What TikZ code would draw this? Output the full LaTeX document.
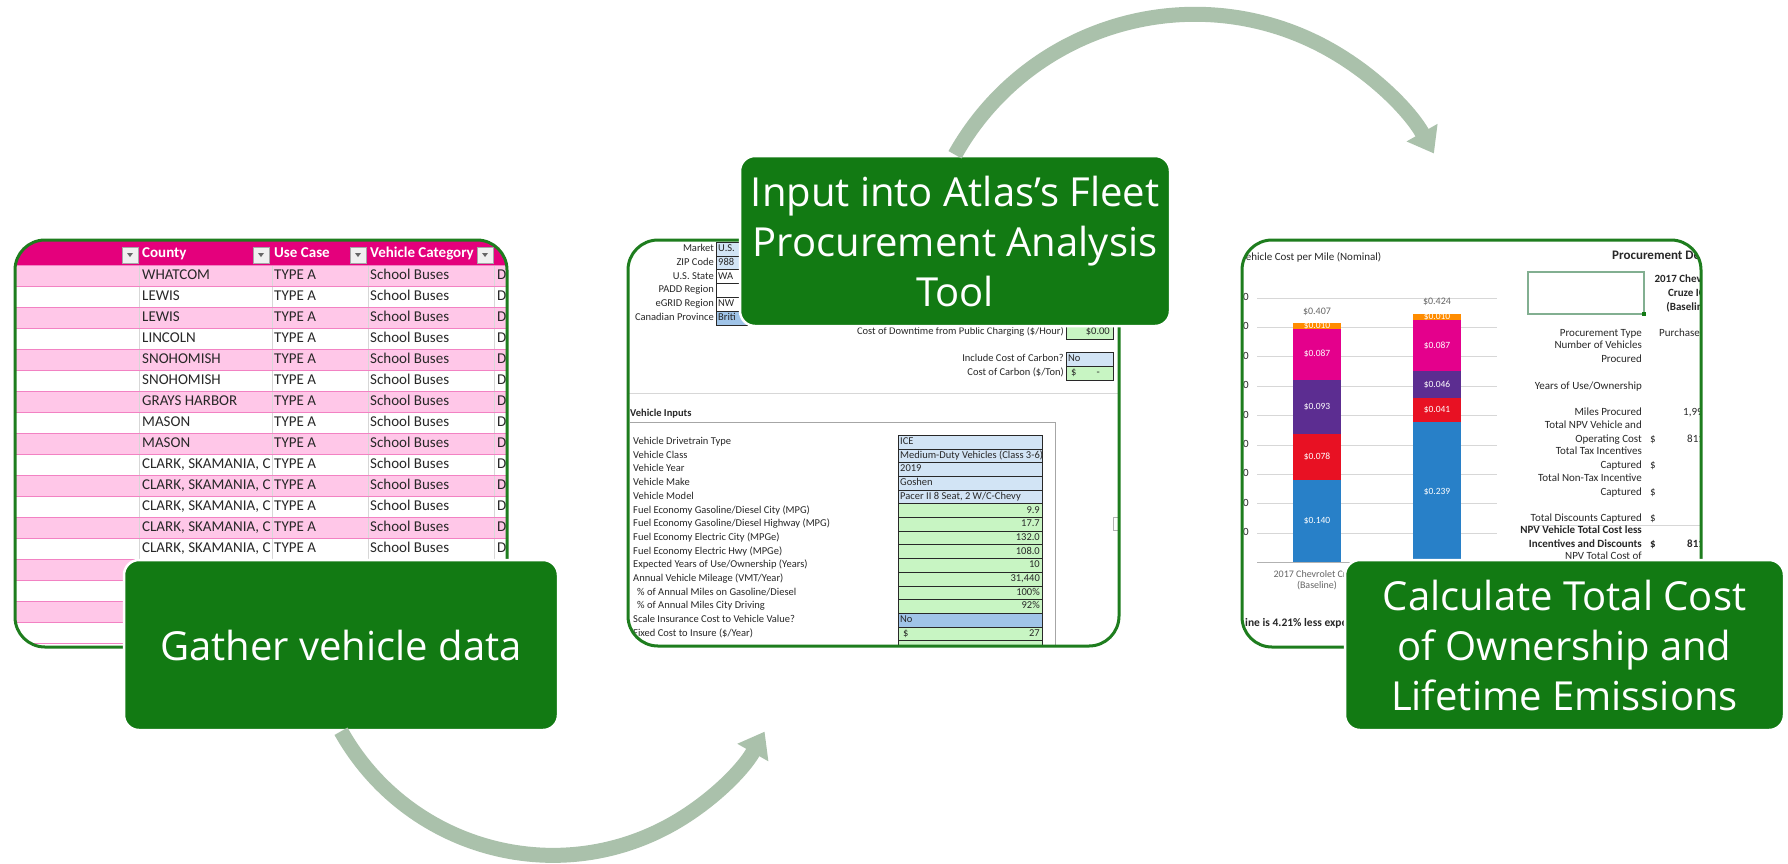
\documentclass[tikz,border=0pt]{standalone}
\usepackage{fontspec}
\setmainfont{Carlito}
\newfontfamily\boxfont{Open Sans}
\usetikzlibrary{arrows.meta,positioning}

\definecolor{stepgreen}{RGB}{18,122,19}
\definecolor{framegreen}{RGB}{30,125,30}
\definecolor{flowgray}{RGB}{170,193,171}
\definecolor{hdrpink}{RGB}{228,0,124}
\definecolor{rowpink}{RGB}{255,199,232}
\definecolor{linepink}{RGB}{242,130,195}
\definecolor{gridgray}{RGB}{215,215,215}
\definecolor{sheettext}{RGB}{40,40,40}
\definecolor{cellblue}{RGB}{210,228,245}
\definecolor{cellblueb}{RGB}{160,196,232}
\definecolor{cellgreen}{RGB}{200,245,195}
\definecolor{boxedge}{RGB}{130,175,145}
\definecolor{barorange}{RGB}{255,140,0}
\definecolor{barmagenta}{RGB}{228,0,140}
\definecolor{barpurple}{RGB}{92,45,145}
\definecolor{barred}{RGB}{232,17,35}
\definecolor{barblue}{RGB}{40,128,200}

\tikzset{
  stepbox/.style={draw=white, line width=2.5pt, fill=stepgreen, rounded corners=15pt,
    text=white, font=\boxfont\fontsize{40}{50}\selectfont, align=center, inner sep=0pt},
  panel/.style={draw=framegreen, line width=3pt, rounded corners=30pt},
  flow/.style={flowgray, line width=15pt, -{Triangle[width=34pt 0 1,length=24pt 0 1]}},
  roster/.style={font=\fontsize{15}{15}\selectfont, text=sheettext, inner sep=0pt,
    anchor=west, text height=10pt, text depth=3pt},
  rosterhead/.style={roster, font=\bfseries\fontsize{15}{15}\selectfont, text=white},
  sheet/.style={font=\fontsize{10.5}{10.5}\selectfont, text=sheettext, inner sep=0pt,
    text height=7.5pt, text depth=2.5pt},
  chart/.style={font=\fontsize{11}{11}\selectfont, text=sheettext, inner sep=0pt,
    text height=8pt, text depth=2.5pt},
  barlbl/.style={font=\fontsize{9.5}{9.5}\selectfont, text=white, inner sep=0pt},
  cellbox/.style={draw=sheettext, line width=0.6pt}
}

\begin{document}
\begin{tikzpicture}[x=1pt,y=-1pt]
\useasboundingbox (0,0) rectangle (1788,863);
\fill[white] (0,0) rectangle (1788,863);

% vehicle list
\begin{scope}
  \clip[rounded corners=30pt] (15,240) rectangle (507,647);
  \fill[hdrpink] (15,240) rectangle (507,265);
  \foreach \i in {0,2,...,16}
    \fill[rowpink] (15,265+21*\i) rectangle (507,286+21*\i);
  \foreach \x in {139,272,368,494}
    \draw[gridgray] (\x,265) -- (\x,559);
  \foreach \i in {0,...,18}
    \draw[linepink] (15,265+21*\i) -- (507,265+21*\i);
  \node[rosterhead] at (142,254) {County};
  \node[rosterhead] at (274,254) {Use Case};
  \node[rosterhead] at (370,254) {Vehicle Category};
  \begin{scope}
    \clip (139,265) rectangle (272,559);
    \foreach \i/\c in {0/WHATCOM, 1/LEWIS, 2/LEWIS, 3/LINCOLN, 4/SNOHOMISH, 5/SNOHOMISH,
        6/GRAYS HARBOR, 7/MASON, 8/MASON, 9/{CLARK, SKAMANIA, C}, 10/{CLARK, SKAMANIA, C},
        11/{CLARK, SKAMANIA, C}, 12/{CLARK, SKAMANIA, C}, 13/{CLARK, SKAMANIA, C}}
      \node[roster] at (142,275.5+21*\i) {\c};
  \end{scope}
  \foreach \i in {0,...,13} {
    \node[roster] at (274,275.5+21*\i) {TYPE A};
    \node[roster] at (370,275.5+21*\i) {School Buses};
    \node[roster] at (497,275.5+21*\i) {D};
  }
  \foreach \x in {122,253,350,477} {
    \draw[fill=gray!12, draw=gray!70] (\x,247) rectangle (\x+16,263);
    \fill[gray!80!black] (\x+5,253) -- (\x+11,253) -- (\x+8,257) -- cycle;
  }
\end{scope}
\draw[panel] (15,240) rectangle (507,647);

% tool inputs
\begin{scope}
  \clip[rounded corners=30pt] (628,240) rectangle (1119,646);
  \foreach \k/\l/\v/\c in {0/Market/U.S./cellblue, 1/ZIP Code/988/cellblue, 2/U.S. State/WA/white,
      3/PADD Region//white, 4/eGRID Region/NW/white, 5/Canadian Province/Briti/cellblueb} {
    \draw[cellbox, fill=\c] (716,242.1+13.8*\k) rectangle (762,255.9+13.8*\k);
    \node[sheet, anchor=east] at (714,249+13.8*\k) {\l};
    \node[sheet, anchor=west] at (718,249+13.8*\k) {\v};
  }
  \node[sheet, anchor=east] at (1064,332) {Cost of Downtime from Public Charging (\$/Hour)};
  \draw[cellbox, fill=cellgreen] (1066,325) rectangle (1113,339);
  \node[sheet, anchor=east] at (1110,332) {\$0.00};
  \node[sheet, anchor=east] at (1064,359) {Include Cost of Carbon?};
  \draw[cellbox, fill=cellblue] (1066,352) rectangle (1113,366);
  \node[sheet, anchor=west] at (1068,359) {No};
  \node[sheet, anchor=east] at (1064,373) {Cost of Carbon (\$/Ton)};
  \draw[cellbox, fill=cellgreen] (1066,366) rectangle (1113,380);
  \node[sheet, anchor=west] at (1071,373) {\$};
  \node[sheet, anchor=east] at (1100,373) {-};
  \draw[gridgray] (628,393) -- (1119,393);
  \node[sheet, anchor=west, font=\bfseries\fontsize{10.5}{10.5}\selectfont] at (630,414) {Vehicle Inputs};
  \draw[gray!70] (630,422) -- (1055,422) -- (1055,650);
  \foreach \k/\c in {0/cellblue, 1/cellblue, 2/cellblue, 3/cellblue, 4/cellblue, 5/cellgreen,
      6/cellgreen, 7/cellgreen, 8/cellgreen, 9/cellgreen, 10/cellgreen, 11/cellgreen,
      12/cellgreen, 13/cellblueb, 14/cellgreen, 15/cellgreen}
    \draw[cellbox, fill=\c] (898,435.15+13.7*\k) rectangle (1042,448.85+13.7*\k);
  \foreach \k/\l in {0/Vehicle Drivetrain Type, 1/Vehicle Class, 2/Vehicle Year, 3/Vehicle Make,
      4/Vehicle Model, 5/{Fuel Economy Gasoline/Diesel City (MPG)},
      6/{Fuel Economy Gasoline/Diesel Highway (MPG)}, 7/Fuel Economy Electric City (MPGe),
      8/Fuel Economy Electric Hwy (MPGe), 9/{Expected Years of Use/Ownership (Years)},
      10/{Annual Vehicle Mileage (VMT/Year)}, 11/{\hspace{4pt}\% of Annual Miles on Gasoline/Diesel},
      12/{\hspace{4pt}\% of Annual Miles City Driving}, 13/Scale Insurance Cost to Vehicle Value?,
      14/{Fixed Cost to Insure (\$/Year)}}
    \node[sheet, anchor=west] at (633,442+13.7*\k) {\l};
  \foreach \k/\v in {0/ICE, 1/Medium-Duty Vehicles (Class 3-6), 2/2019, 3/Goshen,
      4/{Pacer II 8 Seat, 2 W/C-Chevy}, 13/No}
    \node[sheet, anchor=west] at (900,442+13.7*\k) {\v};
  \foreach \k/\v in {5/9.9, 6/17.7, 7/132.0, 8/108.0, 9/10, 10/{31,440}, 11/100\%, 12/92\%, 14/27}
    \node[sheet, anchor=east] at (1040,442+13.7*\k) {\v};
  \node[sheet, anchor=west] at (903,633.8) {\$};
  \draw[gray!60] (1113,517) rectangle (1124,530);
\end{scope}
\draw[panel] (628,240) rectangle (1119,646);

% cost results
\begin{scope}
  \clip[rounded corners=30pt] (1242,240) rectangle (1701,647);
  \node[chart, anchor=west] at (1240,258) {Vehicle Cost per Mile (Nominal)};
  \foreach \k in {1,...,9} {
    \draw[gridgray] (1257,562.3-29.4*\k) -- (1497,562.3-29.4*\k);
    \node[chart, anchor=east] at (1249,562.3-29.4*\k) {0};
  }
  \draw[gray!60] (1257,562.3) -- (1497,562.3);
  \foreach \x/\t/\b/\c/\v in {1293/480.1/562.3/barblue/0.140, 1293/434.3/480.1/barred/0.078,
      1293/379.7/434.3/barpurple/0.093, 1293/328.6/379.7/barmagenta/0.087,
      1293/322.7/328.6/barorange/0.010, 1413/422.0/562.3/barblue/0.239,
      1413/397.9/422.0/barred/0.041, 1413/370.9/397.9/barpurple/0.046,
      1413/319.8/370.9/barmagenta/0.087, 1413/313.9/319.8/barorange/0.010} {
    \fill[\c] (\x,\t) rectangle (\x+48,\b);
    \node[barlbl] at (\x+24,{(\t+\b)/2}) {\$\v};
  }
  \node[chart, text=gray!80!black, font=\fontsize{10}{10}\selectfont] at (1317,311.7) {\$0.407};
  \node[chart, text=gray!80!black, font=\fontsize{10}{10}\selectfont] at (1437,301.7) {\$0.424};
  \node[chart, text=gray!80!black, font=\fontsize{10}{10}\selectfont] at (1317,575) {2017 Chevrolet Cruze};
  \node[chart, text=gray!80!black, font=\fontsize{10}{10}\selectfont] at (1317,586) {(Baseline)};
  \node[chart, anchor=west, font=\bfseries\fontsize{11.5}{11.5}\selectfont] at (1245,624) {ine is 4.21\% less expensive};
  \node[chart, anchor=west, font=\bfseries\fontsize{13}{13}\selectfont] at (1612,257) {Procurement Details};
  \draw[boxedge, line width=1.2pt] (1528,272) rectangle (1644,314);
  \fill[stepgreen] (1642,312) rectangle (1646,316);
  \node[text=sheettext, inner sep=0pt, align=center, font=\bfseries\fontsize{11}{14}\selectfont]
    at (1689,293.5) {2017 Chevrolet\\Cruze ICE\\(Baseline)};
  \foreach \y/\l in {333.7/Procurement Type, 346/Number of Vehicles, 360/Procured,
      386.7/{Years of Use/Ownership}, 413/Miles Procured, 425.3/Total NPV Vehicle and,
      440/Operating Cost, 452/Total Tax Incentives, 466/Captured,
      478.7/Total Non-Tax Incentive, 492.7/Captured, 518.7/Total Discounts Captured,
      557/NPV Total Cost of}
    \node[chart, anchor=east] at (1642,\y) {\l};
  \foreach \y in {440,466,492.7,518.7}
    \node[chart, anchor=west] at (1650,\y) {\$};
  \node[chart, anchor=west] at (1659,333.7) {Purchase (};
  \node[chart, anchor=west] at (1683,413) {1,99};
  \node[chart, anchor=west] at (1687,440) {811};
  \draw[gridgray] (1528,525) -- (1701,525);
  \node[chart, anchor=east, font=\bfseries\fontsize{11}{11}\selectfont] at (1642,530.7) {NPV Vehicle Total Cost less};
  \node[chart, anchor=east, font=\bfseries\fontsize{11}{11}\selectfont] at (1642,545) {Incentives and Discounts};
  \node[chart, anchor=west, font=\bfseries\fontsize{11}{11}\selectfont] at (1650,545) {\$};
  \node[chart, anchor=west, font=\bfseries\fontsize{11}{11}\selectfont] at (1687,545) {811};
\end{scope}
\draw[panel] (1242,240) rectangle (1701,647);

\node[stepbox, minimum width=434pt, minimum height=170pt] (gather) at (341,645) {Gather vehicle data};
\node[stepbox, minimum width=430pt, minimum height=170pt] (input) at (955,241)
  {Input into Atlas’s Fleet\\Procurement Analysis\\Tool};
\node[stepbox, minimum width=439pt, minimum height=170pt] (calc) at (1564.5,645)
  {Calculate Total Cost\\of Ownership and\\Lifetime Emissions};

\draw[flow] (gather.south) arc[start angle=150.7, end angle=29.4, radius=243];
\draw[flow] (input.north) arc[start angle=209.3, end angle=330.4, radius=275];
\end{tikzpicture}
\end{document}
